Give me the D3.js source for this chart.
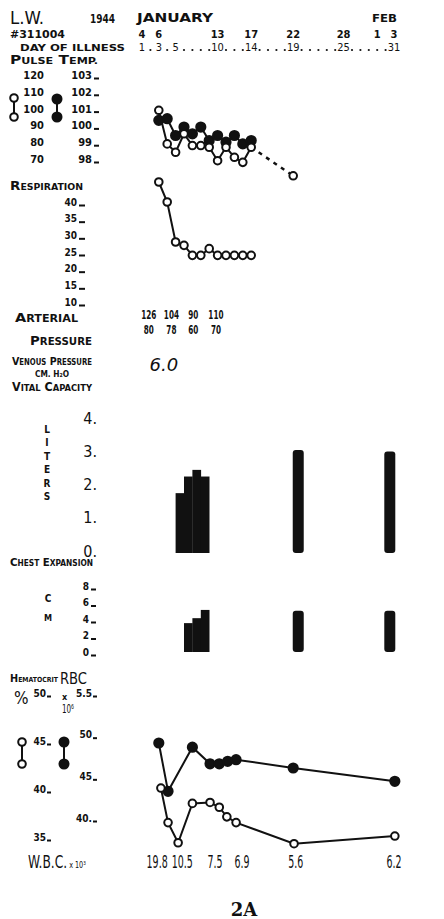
<!DOCTYPE html>
<html><head><meta charset="utf-8">
<script src="https://cdn.jsdelivr.net/npm/d3@7"></script>
<style>
body{margin:0;background:#fff}
svg{display:block}
text{font-family:"DejaVu Sans Condensed","DejaVu Sans",sans-serif;fill:#111}
</style>
</head><body><script>
// ---------------- DATA ----------------
const dateLabels=["4","6","13","17","22","28","1","3"];
const dateDays=[1,3,10,14,19,25,29,31];
const illnessDayLabels=[1,3,5,10,14,19,25,31];

const pulseDays=[3,4,5,6,7,8,9,10,11,12,13,14];
const pulse=[99,79,74,85,78,78,77,69,77,71,68,77];
const pulseLaterDay=19, pulseLater=60;
const temp=[100.3,100.4,99.4,99.9,99.5,99.9,99.1,99.4,99.0,99.4,98.9,99.1];
const pulseTicks=[120,110,100,90,80,70];
const tempTicks=[103,102,101,100,99,98];

const respDays=[3,4,5,6,7,8,9,10,11,12,13,14];
const resp=[46,40,28,27,24,24,26,24,24,24,24,24];
const respTicks=[40,35,30,25,20,15,10];

const arterialDays=[1.8,4.5,7.1,9.8];
const systolic=[126,104,90,110];
const diastolic=[80,78,60,70];

const venousDay=3.6, venous="6.0";

const vcDays=[5.5,6.5,7.5,8.5,19.6,30.5];
const vitalCapacity=[1.8,2.3,2.5,2.3,3.1,3.05];
const vcTicks=[4,3,2,1,0];

const ceDays=[6.5,7.5,8.5,19.6,30.5];
const chestExp=[3.5,4.1,5.1,5.0,5.0];
const ceTicks=[8,6,4,2,0];

const hctDays=[3.25,4.1,5.3,7,9.1,10.2,11.1,12.2,19.1,31.1];
const hematocrit=[40.1,36.5,34.4,38.5,38.6,38.1,37.1,36.5,34.3,35.1];
const hctTicks=[50,45,40,35];

const rbcDays=[3,4.1,7,9.1,10.2,11.2,12.2,19,31.1];
const rbc=[4.90,4.32,4.85,4.65,4.65,4.68,4.70,4.60,4.44];
const rbcTicks=[5.5,5.0,4.5,4.0];
const rbcTickLabels=["5.5","50","45","40."];

const wbcDays=[2.8,5.8,9.7,12.9,19.3,31];
const wbc=["19.8","10.5","7.5","6.9","5.6","6.2"];

// ---------------- DRAW ----------------
const W=444,H=919, ink="#111";
const svg=d3.select("body").append("svg").attr("width",W).attr("height",H);
const x=d3.scaleLinear().domain([1,31]).range([142,394]);

function txt(xp,y,s,size,opt={}){
  const t=svg.append("text").attr("x",xp).attr("y",y).attr("font-size",size).text(s)
    .style("font-weight",opt.weight||"bold");
  if(opt.anchor) t.attr("text-anchor",opt.anchor);
  if(opt.len) t.attr("textLength",opt.len).attr("lengthAdjust","spacingAndGlyphs");
  if(opt.family) t.style("font-family",opt.family);
  return t;
}
function caps(xp,y,str,big,small,len){
  const t=svg.append("text").attr("x",xp).attr("y",y).style("font-weight","bold");
  str.split(" ").forEach((w,i)=>{
    t.append("tspan").attr("font-size",big).text((i?" ":"")+w[0]);
    if(w.length>1) t.append("tspan").attr("font-size",small).text(w.slice(1));
  });
  if(len) t.attr("textLength",len).attr("lengthAdjust","spacingAndGlyphs");
  return t;
}
function styleAxis(g,size,weight){
  g.select(".domain").remove();
  g.selectAll("text").attr("font-size",size).attr("fill",ink)
   .style("font-family",'"DejaVu Sans Condensed","DejaVu Sans",sans-serif').style("font-weight",weight||"bold");
  g.selectAll("line").attr("stroke",ink).attr("stroke-width",2).attr("transform","translate(0,3)");
}

// Header
txt(10,24,"L.W.",17,{weight:"normal",len:34});
txt(90,23,"1944",13,{len:25});
txt(137,22,"JANUARY",12,{len:76});
txt(372,22,"FEB",11,{len:25});
txt(10,38,"#311004",11,{len:55});
dateLabels.forEach((d,i)=>txt(x(dateDays[i]),38,d,11,{anchor:"middle"}));
txt(20,51,"DAY OF ILLNESS",9.5,{len:105});
d3.range(1,32).forEach(d=>{
  if(illnessDayLabels.includes(d)) txt(x(d),51,String(d),11,{anchor:"middle",weight:"normal"});
  else svg.append("circle").attr("cx",x(d)).attr("cy",50).attr("r",1.1).attr("fill",ink);
});
caps(10,64,"PULSE TEMP.",13,9.5,88);

// Pulse / temp
const yP=d3.scaleLinear().domain([70,120]).range([159,75]);
const yT=d3.scaleLinear().domain([98,103]).range([159,75]);
const gP=svg.append("g").attr("transform","translate(44,0)")
  .call(d3.axisLeft(yP).tickValues(pulseTicks).tickSize(0).tickPadding(0).tickFormat(d3.format("d")));
styleAxis(gP,11);
const gT=svg.append("g").attr("transform","translate(99,0)")
  .call(d3.axisLeft(yT).tickValues(tempTicks).tickSize(5).tickPadding(2).tickFormat(d3.format("d")));
styleAxis(gT,11);
function legend(cx,y1,y2,filled){
  svg.append("line").attr("x1",cx).attr("x2",cx).attr("y1",y1).attr("y2",y2).attr("stroke",ink).attr("stroke-width",2);
  [y1,y2].forEach(y=>svg.append("circle").attr("cx",cx).attr("cy",y).attr("r",filled?4.5:3.8)
    .attr("fill",filled?ink:"#fff").attr("stroke",ink).attr("stroke-width",2));
}
legend(14,98,117,false);
legend(57,99,117,true);

const lineGen=(xs,ys,sy)=>d3.line().x((d,i)=>x(xs[i])).y((d,i)=>sy(ys[i]))(ys);
function series(xs,ys,sy,filled){
  svg.append("path").attr("d",lineGen(xs,ys,sy)).attr("fill","none").attr("stroke",ink).attr("stroke-width",2);
  svg.selectAll(null).data(ys).enter().append("circle")
    .attr("cx",(d,i)=>x(xs[i])).attr("cy",d=>sy(d)).attr("r",filled?4.6:3.8)
    .attr("fill",filled?ink:"#fff").attr("stroke",ink).attr("stroke-width",2);
}
series(pulseDays,temp,yT,true);
svg.append("line").attr("x1",x(pulseDays[pulseDays.length-1])).attr("y1",yP(pulse[pulse.length-1]))
  .attr("x2",x(pulseLaterDay)).attr("y2",yP(pulseLater))
  .attr("stroke",ink).attr("stroke-width",2.5).attr("stroke-dasharray","4,5");
series(pulseDays,pulse,yP,false);
svg.append("circle").attr("cx",x(pulseLaterDay)).attr("cy",yP(pulseLater)).attr("r",3.8)
  .attr("fill","#fff").attr("stroke",ink).attr("stroke-width",2);

// Respiration
caps(10,190,"RESPIRATION",13,9,73);
const yR=d3.scaleLinear().domain([10,40]).range([302,202]);
const gR=svg.append("g").attr("transform","translate(85,0)")
  .call(d3.axisLeft(yR).tickValues(respTicks).tickSize(6).tickPadding(2));
styleAxis(gR,10);
series(respDays,resp,yR,false);

// Arterial pressure
caps(15,322,"ARTERIAL",13,10,63);
caps(30,345,"PRESSURE",13,10,62);
arterialDays.forEach((d,i)=>{
  svg.append("text").attr("transform",`translate(${x(d)},319) scale(0.62,1)`)
    .attr("text-anchor","middle").attr("font-size",13).style("font-weight","bold").text(systolic[i]);
  svg.append("text").attr("transform",`translate(${x(d)},334) scale(0.62,1)`)
    .attr("text-anchor","middle").attr("font-size",13).style("font-weight","bold").text(diastolic[i]);
});
caps(12,365,"VENOUS PRESSURE",11,8,80);
txt(35,377,"CM. H₂O",8,{len:34});
txt(x(venousDay),371,venous,18,{anchor:"middle",weight:"normal",family:"DejaVu Sans"}).attr("font-style","italic");
caps(12,391,"VITAL CAPACITY",12,9,80);

// Vital capacity
["L","I","T","E","R","S"].forEach((c,i)=>txt(47,433+i*13.4,c,10,{anchor:"middle"}));
const yV=d3.scaleLinear().domain([0,4]).range([553,420]);
const gV=svg.append("g").attr("transform","translate(97,0)")
  .call(d3.axisLeft(yV).tickValues(vcTicks).tickSize(0).tickPadding(0).tickFormat(d=>d+"."));
styleAxis(gV,16,"normal");
gV.selectAll("text").attr("dy","0.2em");
const dayW=x(2)-x(1);
const isSingle=(days,i)=>!days.some((e,j)=>j!==i&&Math.abs(e-days[i])<1.5);
function bars(days,vals,sy){
  svg.selectAll(null).data(vals).enter().append("rect")
    .attr("x",(d,i)=>x(days[i])-(isSingle(days,i)?5.5:dayW/2))
    .attr("width",(d,i)=>isSingle(days,i)?11:dayW+0.3)
    .attr("rx",(d,i)=>isSingle(days,i)?3:0)
    .attr("y",d=>sy(d)).attr("height",d=>sy(0)-sy(d)).attr("fill",ink);
}
bars(vcDays,vitalCapacity,yV);

// Chest expansion
caps(10,566,"CHEST EXPANSION",11,8,83);
txt(48,602,"C",10,{anchor:"middle"});
txt(48,621,"M",9,{anchor:"middle"});
const yC=d3.scaleLinear().domain([0,8]).range([652,586]);
const gC=svg.append("g").attr("transform","translate(96,0)")
  .call(d3.axisLeft(yC).tickValues(ceTicks).tickSize(5).tickPadding(2));
styleAxis(gC,10);
bars(ceDays,chestExp,yC);

// Hematocrit / RBC
caps(10,682,"HEMATOCRIT",11,7,48);
txt(60,684,"RBC",15,{weight:"normal",len:27});
txt(14,704,"%",17,{weight:"normal"});
txt(62,700,"x",9);
txt(62,713,"10⁶",12,{weight:"normal",len:12});
const yH=d3.scaleLinear().domain([35,50]).range([837,693]);
const yB=d3.scaleLinear().domain([4.0,5.5]).range([818,693]);
const gH=svg.append("g").attr("transform","translate(51,0)")
  .call(d3.axisLeft(yH).tickValues(hctTicks).tickSize(4).tickPadding(1));
styleAxis(gH,10);
const gB=svg.append("g").attr("transform","translate(97,0)")
  .call(d3.axisLeft(yB).tickValues(rbcTicks).tickSize(4).tickPadding(1).tickFormat((d,i)=>rbcTickLabels[i]));
styleAxis(gB,10);
legend(22,742,764,false);
legend(64,742,764,true);
series(rbcDays,rbc,yB,true);
series(hctDays,hematocrit,yH,false);

// WBC
const wt=svg.append("text").attr("transform","translate(28,868) scale(0.8,1)").attr("font-size",17)
  .style("font-weight","normal").text("W.B.C.");
wt.append("tspan").attr("font-size",9).text(" x 10³");
wbc.forEach((w,i)=>svg.append("text").attr("transform",`translate(${x(wbcDays[i])},868) scale(0.62,1.05)`)
  .attr("text-anchor","middle").attr("font-size",17).style("font-weight","normal").text(w));

// Caption
txt(244,916,"2A",18,{anchor:"middle",family:"DejaVu Serif"});
</script></body></html>
